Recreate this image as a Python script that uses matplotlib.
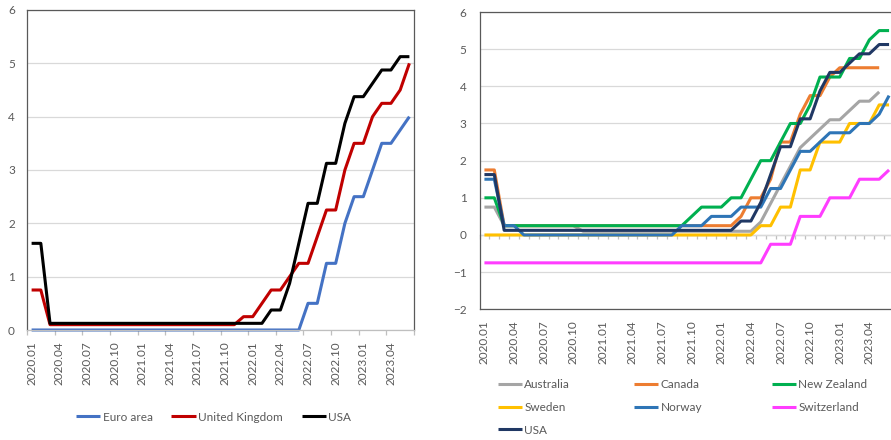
import numpy as np
import matplotlib
matplotlib.use("Agg")
import matplotlib.pyplot as plt

plt.rcParams['font.family'] = ['Lato', 'DejaVu Sans']

months = ["2020.01", "2020.02", "2020.03", "2020.04", "2020.05", "2020.06",
          "2020.07", "2020.08", "2020.09", "2020.10", "2020.11", "2020.12",
          "2021.01", "2021.02", "2021.03", "2021.04", "2021.05", "2021.06",
          "2021.07", "2021.08", "2021.09", "2021.10", "2021.11", "2021.12",
          "2022.01", "2022.02", "2022.03", "2022.04", "2022.05", "2022.06",
          "2022.07", "2022.08", "2022.09", "2022.10", "2022.11", "2022.12",
          "2023.01", "2023.02", "2023.03", "2023.04", "2023.05", "2023.06"]

nan = np.nan

# Left panel
euro_area = [0, 0, 0, 0, 0, 0, 0, 0, 0, 0, 0, 0,
             0, 0, 0, 0, 0, 0, 0, 0, 0, 0, 0, 0,
             0, 0, 0, 0, 0, 0, 0.5, 0.5, 1.25, 1.25, 2.0, 2.5,
             2.5, 3.0, 3.5, 3.5, 3.75, 4.0]
united_kingdom = [0.75, 0.75, 0.1, 0.1, 0.1, 0.1, 0.1, 0.1, 0.1, 0.1, 0.1, 0.1,
                  0.1, 0.1, 0.1, 0.1, 0.1, 0.1, 0.1, 0.1, 0.1, 0.1, 0.1, 0.25,
                  0.25, 0.5, 0.75, 0.75, 1.0, 1.25, 1.25, 1.75, 2.25, 2.25, 3.0, 3.5,
                  3.5, 4.0, 4.25, 4.25, 4.5, 5.0]
usa = [1.625, 1.625, 0.125, 0.125, 0.125, 0.125, 0.125, 0.125, 0.125, 0.125, 0.125, 0.125,
       0.125, 0.125, 0.125, 0.125, 0.125, 0.125, 0.125, 0.125, 0.125, 0.125, 0.125, 0.125,
       0.125, 0.125, 0.375, 0.375, 0.875, 1.625, 2.375, 2.375, 3.125, 3.125, 3.875, 4.375,
       4.375, 4.625, 4.875, 4.875, 5.125, 5.125]

# Right panel
australia = [0.75, 0.75, 0.25, 0.25, 0.25, 0.25, 0.25, 0.25, 0.25, 0.25, 0.1, 0.1,
             0.1, 0.1, 0.1, 0.1, 0.1, 0.1, 0.1, 0.1, 0.1, 0.1, 0.1, 0.1,
             0.1, 0.1, 0.1, 0.1, 0.35, 0.85, 1.35, 1.85, 2.35, 2.6, 2.85, 3.1,
             3.1, 3.35, 3.6, 3.6, 3.85, nan]
canada = [1.75, 1.75, 0.25, 0.25, 0.25, 0.25, 0.25, 0.25, 0.25, 0.25, 0.25, 0.25,
          0.25, 0.25, 0.25, 0.25, 0.25, 0.25, 0.25, 0.25, 0.25, 0.25, 0.25, 0.25,
          0.25, 0.25, 0.5, 1.0, 1.0, 1.5, 2.5, 2.5, 3.25, 3.75, 3.75, 4.25,
          4.5, 4.5, 4.5, 4.5, 4.5, nan]
new_zealand = [1.0, 1.0, 0.25, 0.25, 0.25, 0.25, 0.25, 0.25, 0.25, 0.25, 0.25, 0.25,
               0.25, 0.25, 0.25, 0.25, 0.25, 0.25, 0.25, 0.25, 0.25, 0.5, 0.75, 0.75,
               0.75, 1.0, 1.0, 1.5, 2.0, 2.0, 2.5, 3.0, 3.0, 3.5, 4.25, 4.25,
               4.25, 4.75, 4.75, 5.25, 5.5, 5.5]
sweden = [0, 0, 0, 0, 0, 0, 0, 0, 0, 0, 0, 0,
          0, 0, 0, 0, 0, 0, 0, 0, 0, 0, 0, 0,
          0, 0, 0, 0, 0.25, 0.25, 0.75, 0.75, 1.75, 1.75, 2.5, 2.5,
          2.5, 3.0, 3.0, 3.0, 3.5, 3.5]
norway = [1.5, 1.5, 0.25, 0.25, 0, 0, 0, 0, 0, 0, 0, 0,
          0, 0, 0, 0, 0, 0, 0, 0, 0.25, 0.25, 0.25, 0.5,
          0.5, 0.5, 0.75, 0.75, 0.75, 1.25, 1.25, 1.75, 2.25, 2.25, 2.5, 2.75,
          2.75, 2.75, 3.0, 3.0, 3.25, 3.75]
switzerland = [-0.75, -0.75, -0.75, -0.75, -0.75, -0.75, -0.75, -0.75, -0.75, -0.75, -0.75, -0.75,
               -0.75, -0.75, -0.75, -0.75, -0.75, -0.75, -0.75, -0.75, -0.75, -0.75, -0.75, -0.75,
               -0.75, -0.75, -0.75, -0.75, -0.75, -0.25, -0.25, -0.25, 0.5, 0.5, 0.5, 1.0,
               1.0, 1.0, 1.5, 1.5, 1.5, 1.75]
usa_right = usa

left_series = [("Euro area", euro_area, "#4472C4"),
               ("United Kingdom", united_kingdom, "#C00000"),
               ("USA", usa, "#000000")]
right_series = [("Australia", australia, "#A5A5A5"),
                ("Canada", canada, "#ED7D31"),
                ("New Zealand", new_zealand, "#00B050"),
                ("Sweden", sweden, "#FFC000"),
                ("Norway", norway, "#2E75B6"),
                ("Switzerland", switzerland, "#FF3DFF"),
                ("USA", usa_right, "#203864")]

W, H = 891, 440
TXT = "#595959"
FRAME = "#595959"
GRID = "#D9D9D9"
AXIS = "#BFBFBF"
FS = 8.5
LW = 2.2
PT = 72 / 100.0  # points per pixel at dpi 100


def px_rect(l, t, r, b):
    return [l / W, 1 - b / H, (r - l) / W, (b - t) / H]


fig = plt.figure(figsize=(W / 100, H / 100), dpi=100)
fig.patch.set_facecolor("white")

x = np.arange(len(months))
label_pos = x[::3]
label_txt = months[::3]
bounds = np.arange(-0.5, len(months), 1.0)

# ---------------- Left panel ----------------
ax1 = fig.add_axes(px_rect(27, 10, 414, 330))
lines1 = []
for name, vals, col in left_series:
    ln, = ax1.plot(x, vals, color=col, lw=LW, label=name,
                   solid_joinstyle="round", solid_capstyle="butt", clip_on=False)
    lines1.append(ln)
ax1.set_xlim(-0.5, len(months) - 0.5)
ax1.set_ylim(0, 6)
ax1.set_yticks(range(0, 7))
ax1.yaxis.grid(True, color=GRID, lw=0.9)
ax1.set_axisbelow(True)
for s in ["left", "top", "right"]:
    ax1.spines[s].set_color(FRAME)
    ax1.spines[s].set_linewidth(0.9)
ax1.spines["bottom"].set_color(AXIS)
ax1.spines["bottom"].set_linewidth(0.9)
ax1.set_xticks(label_pos)
ax1.set_xticklabels(label_txt, rotation=90)
ax1.set_xticks(bounds[::3], minor=True)
ax1.tick_params(axis="x", which="major", length=0, pad=11 * PT,
                labelsize=FS, labelcolor=TXT)
ax1.tick_params(axis="x", which="minor", length=5 * PT, width=0.9, color=AXIS,
                direction="out")
ax1.tick_params(axis="y", length=0, pad=12 * PT, labelsize=FS, labelcolor=TXT)

ax1.legend(handles=lines1, loc="center left",
           bbox_to_anchor=(76 / W, 1 - 417 / H), bbox_transform=fig.transFigure,
           ncol=3, frameon=False, handlelength=2.05, handletextpad=0.2,
           columnspacing=1.6, borderpad=0, borderaxespad=0,
           prop={"size": FS}, labelcolor=TXT)

# ---------------- Right panel ----------------
ax2 = fig.add_axes(px_rect(479.5, 12, 894, 309.3))
lines2 = {}
for name, vals, col in right_series:
    ln, = ax2.plot(x, vals, color=col, lw=LW, label=name,
                   solid_joinstyle="round", solid_capstyle="butt")
    lines2[name] = ln
ax2.set_xlim(-0.5, len(months) - 0.5)
ax2.set_ylim(-2, 6)
ax2.set_yticks(range(-2, 7))
ax2.yaxis.grid(True, color=GRID, lw=0.9)
ax2.set_axisbelow(True)
for s in ["left", "top", "right", "bottom"]:
    ax2.spines[s].set_color(FRAME)
    ax2.spines[s].set_linewidth(0.9)
ax2.set_xticks(label_pos)
ax2.set_xticklabels(label_txt, rotation=90)
ax2.tick_params(axis="x", which="major", length=0, pad=11 * PT,
                labelsize=FS, labelcolor=TXT)
ax2.tick_params(axis="y", length=0, pad=13 * PT, labelsize=FS, labelcolor=TXT)

# horizontal axis line at y = 0 with monthly tick marks
sec = ax2.secondary_xaxis(0.25)
sec.set_xticks(bounds)
sec.tick_params(axis="x", length=4 * PT, width=0.9, color=AXIS, direction="out",
                labelbottom=False, labeltop=False)
for s in sec.spines.values():
    s.set_color(AXIS)
    s.set_linewidth(0.9)

# legend: three columns placed like the original
cols = [(497.7, ["Australia", "Sweden", "USA"]),
        (634.0, ["Canada", "Norway"]),
        (771.7, ["New Zealand", "Switzerland"])]
legs = []
for xpx, names in cols:
    leg = ax2.legend(handles=[lines2[n] for n in names], loc="upper left",
                     bbox_to_anchor=(xpx / W, 1 - 379 / H),
                     bbox_transform=fig.transFigure, frameon=False,
                     handlelength=2.05, handletextpad=0.2, labelspacing=1.0,
                     borderpad=0, borderaxespad=0, prop={"size": FS},
                     labelcolor=TXT)
    legs.append(leg)
for leg in legs[:-1]:
    ax2.add_artist(leg)

fig.savefig("out.png", dpi=100)
